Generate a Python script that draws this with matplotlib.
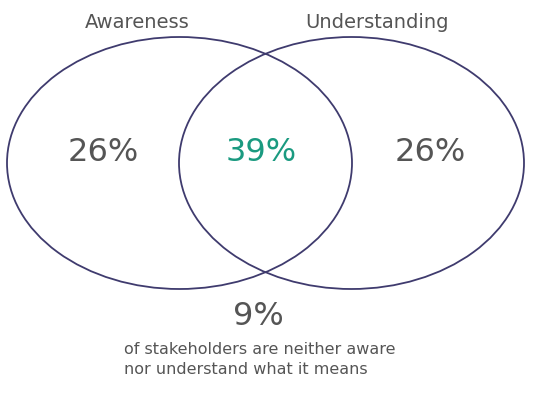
import matplotlib
matplotlib.use("Agg")
import matplotlib.pyplot as plt
from matplotlib.patches import Ellipse

set_labels = ["Awareness", "Understanding"]
region_values = [26, 39, 26]
outside_value = 9
footnote = ["of stakeholders are neither aware", "nor understand what it means"]

fig = plt.figure(figsize=(5.44, 4.02), dpi=100)
ax = fig.add_axes([0, 0, 1, 1])
ax.set_xlim(0, 544)
ax.set_ylim(402, 0)
ax.axis("off")

edge = "#3f3b6e"
for cx in (179.5, 351.5):
    ax.add_patch(Ellipse((cx, 164), 345, 252, fill=False, ec=edge, lw=1.3))

gray = "#555555"
ax.text(137, 22, set_labels[0], ha="center", va="center", fontsize=14, color=gray)
ax.text(377, 22, set_labels[1], ha="center", va="center", fontsize=14, color=gray)

colors = [gray, "#1a9a80", gray]
for x, v, c in zip((103, 261, 430), region_values, colors):
    ax.text(x, 153, f"{v}%", ha="center", va="center", fontsize=23, color=c)

ax.text(258, 317, f"{outside_value}%", ha="center", va="center", fontsize=23, color=gray)
for i, line in enumerate(footnote):
    ax.text(124, 350 + 20 * i, line, ha="left", va="center", fontsize=11.5, color=gray)

fig.savefig("out.png", dpi=100)
